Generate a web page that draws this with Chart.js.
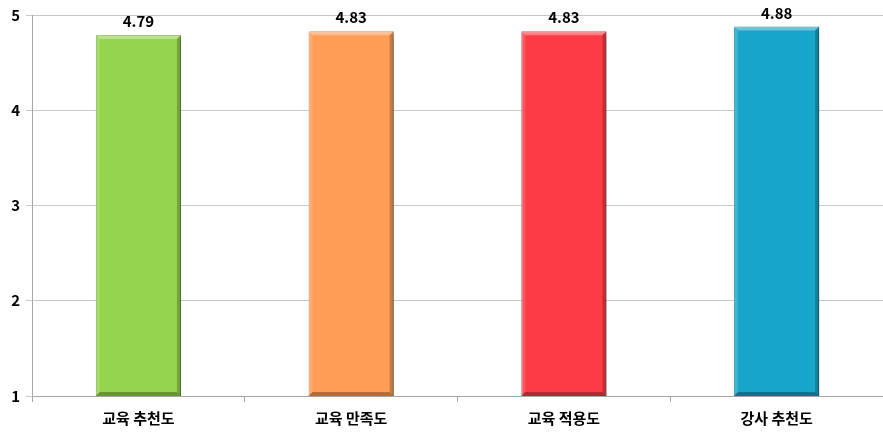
<!DOCTYPE html>
<html>
<head>
<meta charset="utf-8">
<script src="https://cdn.jsdelivr.net/npm/chart.js@4.4.1/dist/chart.umd.min.js"></script>
<style>
    html, body { margin: 0; padding: 0; background: #ffffff; }
    #wrap { width: 883px; height: 447px; position: relative; }
</style>
</head>
<body>
<div id="wrap"><canvas id="chart"></canvas></div>
<script>
const categories = ["교육 추천도", "교육 만족도", "교육 적용도", "강사 추천도"];
const scores = [4.79, 4.83, 4.83, 4.88];
const barColors = ["#95d44f", "#ff9c55", "#fd3a45", "#17a5c9"];
const edgeColors = ["#7bb23e", "#d98247", "#d6303a", "#1289a8"];
const yTicks = [1, 2, 3, 4, 5];

const FONT = "'Noto Sans CJK KR', 'Noto Sans', sans-serif";

// soft drop shadow behind the bars
const barShadow = {
    id: "barShadow",
    beforeDatasetDraw(chart) {
        const ctx = chart.ctx;
        ctx.save();
        ctx.shadowColor = "rgba(0, 0, 0, 0.45)";
        ctx.shadowBlur = 5;
        ctx.shadowOffsetX = 3;
        ctx.shadowOffsetY = 2;
    },
    afterDatasetDraw(chart) {
        chart.ctx.restore();
    },
};

// bevel on the bar edges plus the value labels on top
const barDecor = {
    id: "barDecor",
    afterDatasetsDraw(chart) {
        const ctx = chart.ctx;
        const meta = chart.getDatasetMeta(0);
        meta.data.forEach((bar, i) => {
            const left = bar.x - bar.width / 2;
            const right = bar.x + bar.width / 2;
            const top = bar.y;
            const bottom = Math.min(bar.base, chart.chartArea.bottom);
            const b = 4;
            ctx.save();
            ctx.fillStyle = "rgba(255, 255, 255, 0.35)";
            ctx.beginPath();
            ctx.moveTo(left, top);
            ctx.lineTo(right, top);
            ctx.lineTo(right - b, top + b);
            ctx.lineTo(left + b, top + b);
            ctx.closePath();
            ctx.fill();
            ctx.fillStyle = "rgba(255, 255, 255, 0.15)";
            ctx.beginPath();
            ctx.moveTo(left, top);
            ctx.lineTo(left + b, top + b);
            ctx.lineTo(left + b, bottom - b);
            ctx.lineTo(left, bottom);
            ctx.closePath();
            ctx.fill();
            ctx.fillStyle = "rgba(0, 0, 0, 0.22)";
            ctx.beginPath();
            ctx.moveTo(right, top);
            ctx.lineTo(right, bottom);
            ctx.lineTo(right - b, bottom - b);
            ctx.lineTo(right - b, top + b);
            ctx.closePath();
            ctx.fill();
            ctx.fillStyle = "rgba(0, 0, 0, 0.3)";
            ctx.beginPath();
            ctx.moveTo(left, bottom);
            ctx.lineTo(right, bottom);
            ctx.lineTo(right - b, bottom - b);
            ctx.lineTo(left + b, bottom - b);
            ctx.closePath();
            ctx.fill();

            ctx.fillStyle = "#000000";
            ctx.font = "bold 15px " + FONT;
            ctx.textAlign = "center";
            ctx.textBaseline = "bottom";
            ctx.fillText(scores[i].toFixed(2), bar.x, top - 6);
            ctx.restore();
        });
    },
};

new Chart(document.getElementById("chart"), {
    type: "bar",
    data: {
        labels: categories,
        datasets: [{
            data: scores,
            backgroundColor: barColors,
            borderColor: edgeColors,
            borderWidth: 1,
            categoryPercentage: 1,
            barPercentage: 0.4,
        }],
    },
    options: {
        responsive: true,
        maintainAspectRatio: false,
        animation: false,
        layout: { padding: { top: 8, right: 0, bottom: 13, left: 4 } },
        plugins: {
            legend: { display: false },
            tooltip: { enabled: false },
        },
        scales: {
            x: {
                offset: true,
                grid: { offset: true, drawOnChartArea: false, color: "#a6a6a6", tickLength: 6 },
                border: { color: "#a6a6a6" },
                ticks: { color: "#000000", font: { family: FONT, size: 15, weight: "bold" }, padding: 7 },
            },
            y: {
                min: 1,
                max: 5,
                afterBuildTicks(axis) {
                    axis.ticks = yTicks.map((v) => ({ value: v }));
                },
                afterFit(axis) {
                    axis.width = 28;
                },
                grid: { color: "#c8c8c8", tickLength: 6 },
                border: { color: "#a6a6a6" },
                ticks: { color: "#000000", font: { family: FONT, size: 15, weight: "bold" }, padding: 6 },
            },
        },
    },
    plugins: [barShadow, barDecor],
});
</script>
</body>
</html>
